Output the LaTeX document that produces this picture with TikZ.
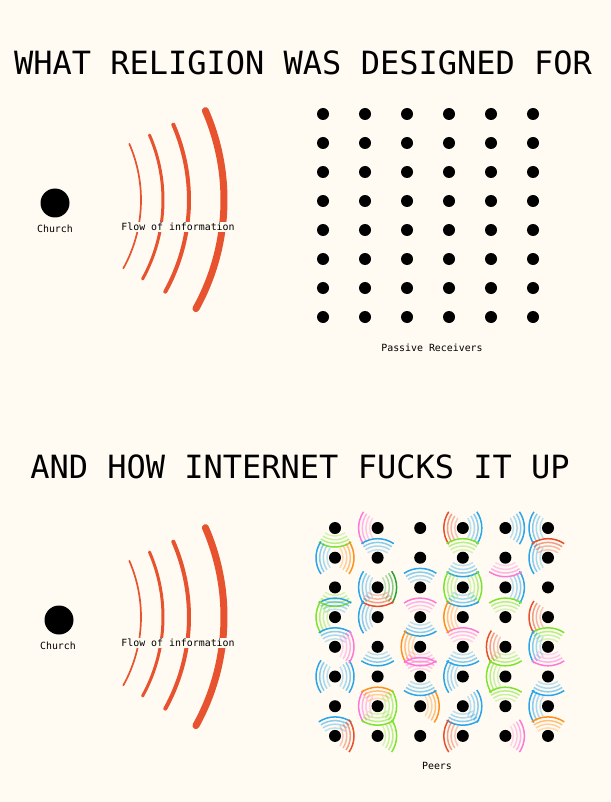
\documentclass[tikz,border=0pt]{standalone}
\usepackage{fontspec}
\setmonofont{DejaVu Sans Mono}
\usepackage{tikz}
\usepackage{xcolor}

\definecolor{paper}{HTML}{FFFBF3}
\definecolor{flow}{HTML}{E8532F}
\definecolor{pblue}{HTML}{2AA5EA}
\definecolor{pgreen}{HTML}{7CE42C}
\definecolor{pdkgreen}{HTML}{2DA02D}
\definecolor{ppink}{HTML}{FF78D6}
\definecolor{porange}{HTML}{FF901E}
\definecolor{pred}{HTML}{E8502C}

\tikzset{
  heading/.style={font=\ttfamily\fontsize{32}{32}\selectfont, inner sep=0pt},
  caption/.style={font=\ttfamily\fontsize{9.9}{10}\selectfont, inner sep=1pt},
  dot/.style={circle, fill=black, minimum size=12pt, inner sep=0pt},
  church/.style={circle, fill=black, minimum size=29pt, inner sep=0pt},
  flowarc/.style={flow, line cap=round},
  wave/.style={line width=1.5pt, line cap=butt}
}

% one peer broadcasting: peer, direction (y points down), colour
\newcommand{\waves}[3]{%
  \foreach \rad/\op in {18/0.3, 21.7/0.4, 25.3/0.55, 29/1}
    \draw[wave, color=#3, opacity=\op] (#1) ++(#2+180:10) ++(#2-34:\rad)
      arc[start angle=#2-34, end angle=#2+34, radius=\rad];
}

\begin{document}
\begin{tikzpicture}[x=1pt,y=-1pt]
  \fill[paper] (0,0) rectangle (610,802);
  \useasboundingbox (0,0) rectangle (610,802);
  % Setup 1
  \node[heading] (title1) at (303,63) {WHAT RELIGION WAS DESIGNED FOR};
  \node[church] (church1) at (55,203) {};
  \node[caption] (clabel1) at (55,229) {Church};
  \coordinate (src1) at (0,200);
  \foreach \rad/\w in {141/1.7, 163/3, 189/4, 224/7}
    \draw[flowarc, line width=\w] (src1) ++(-23.5:\rad) arc[start angle=-23.5, end angle=29, radius=\rad];
  \node[caption, fill=paper] (flabel1) at (178,227) {Flow of information};
  \foreach \i in {1,...,6}
    \foreach \j in {1,...,8}
      \node[dot] (p-\i-\j) at ({323+42*(\i-1)},{114+29*(\j-1)}) {};
  \node[caption] (plabel) at (432,348) {Passive Receivers};
  % Setup 2
  \begin{scope}[shift={(0,417)}]
  \node[heading] (title2) at (300,50) {AND HOW INTERNET FUCKS IT UP};
  \node[church] (church2) at (59,203) {};
  \node[caption] (clabel2) at (58,229) {Church};
  \coordinate (src2) at (0,200);
  \foreach \rad/\w in {141/1.7, 163/3, 189/4, 224/7}
    \draw[flowarc, line width=\w] (src2) ++(-23.5:\rad) arc[start angle=-23.5, end angle=29, radius=\rad];
  \node[caption, fill=paper] (flabel2) at (178,226) {Flow of information};
  \end{scope}
  \foreach \i in {1,...,6}
    \foreach \j in {1,...,8}
      \coordinate (q-\i-\j) at ({335+42.6*(\i-1)},{528+29.7*(\j-1)});
  % waves: 0 right, 90 down, 180 left, 270 up
  \foreach \i/\j/\d/\k in {1/1/90/pgreen, 2/1/180/ppink, 1/2/0/porange, 2/2/270/pblue,
      1/2/180/pblue, 4/1/180/pred, 3/3/270/pblue, 2/3/0/pdkgreen, 4/1/0/pblue,
      4/2/270/pgreen, 4/2/90/pblue, 5/1/0/pblue, 6/1/180/pblue, 6/2/180/pblue,
      5/3/0/pblue, 6/2/270/pred, 5/2/90/ppink, 4/3/180/pgreen, 4/3/0/pgreen,
      4/3/90/pblue, 5/4/270/pgreen, 6/4/180/pred, 6/5/270/pgreen, 6/5/180/pblue,
      6/5/90/ppink, 4/5/270/ppink, 5/5/180/pred, 4/5/90/pblue, 5/5/90/pgreen,
      4/4/180/porange, 5/6/180/pgreen, 5/7/270/pgreen, 4/7/90/pblue, 4/7/0/pblue,
      6/7/180/pblue, 6/6/90/pblue, 6/8/270/porange, 5/8/0/ppink, 4/8/180/pred,
      3/7/0/porange, 1/6/180/pblue, 1/6/0/pblue, 2/5/90/pblue, 3/6/90/pblue,
      4/6/180/pblue, 2/7/180/ppink, 2/7/270/porange, 2/7/0/pgreen, 2/7/90/pgreen,
      2/8/0/pgreen, 1/8/270/pblue, 1/8/0/pred, 1/3/90/pgreen, 1/4/270/pblue,
      1/4/180/pgreen, 1/5/270/pblue, 2/4/180/pblue, 1/5/0/ppink, 2/3/90/pred,
      2/3/180/pblue, 3/4/270/ppink, 3/4/90/pblue, 3/5/180/porange, 3/5/90/ppink,
      3/6/270/ppink}
    \waves{q-\i-\j}{\d}{\k};
  \foreach \i in {1,...,6}
    \foreach \j in {1,...,8}
      \node[dot] (d-\i-\j) at (q-\i-\j) {};
  \node[caption] (peers) at (437,766) {Peers};
\end{tikzpicture}
\end{document}
